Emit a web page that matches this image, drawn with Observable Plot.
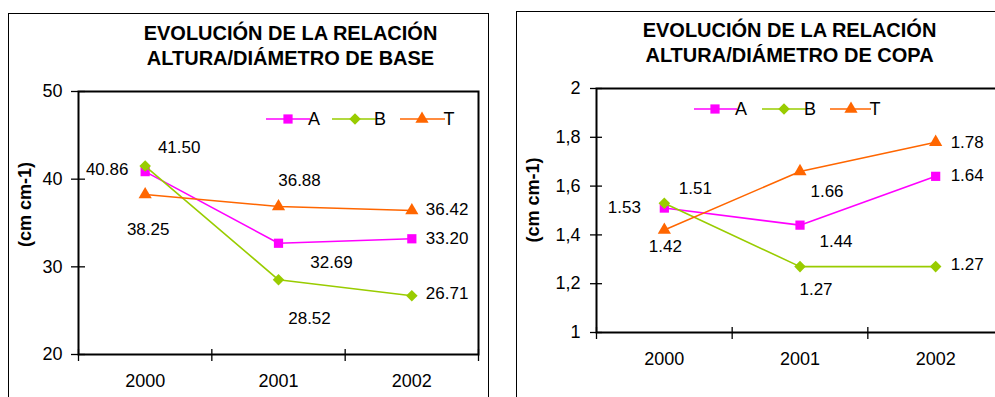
<!DOCTYPE html>
<html><head><meta charset="utf-8">
<script src="https://cdn.jsdelivr.net/npm/d3@7"></script>
<script src="https://cdn.jsdelivr.net/npm/@observablehq/plot@0.6"></script>
<style>
body{margin:0;background:#fff;}
#wrap{position:relative;width:995px;height:397px;overflow:hidden;font-family:"Liberation Sans",Arial,sans-serif;background:#fff;}
.box{position:absolute;border:1px solid #000;}
.chart{position:absolute;top:0;}
</style></head><body><div id="wrap"></div>
<script>
// ---- data ----
const years = ["2000", "2001", "2002"];
const series = ["A", "B", "T"];
const baseA = [40.86, 32.69, 33.20];
const baseB = [41.50, 28.52, 26.71];
const baseT = [38.25, 36.88, 36.42];
const copaA = [1.51, 1.44, 1.64];
const copaB = [1.53, 1.27, 1.27];
const copaT = [1.42, 1.66, 1.78];
const baseTicks = [20, 30, 40, 50];
const baseTickLabels = ["20", "30", "40", "50"];
const copaTicks = [1, 1.2, 1.4, 1.6, 1.8, 2];
const copaTickLabels = ["1", "1,2", "1,4", "1,6", "1,8", "2"];
const titleBase = "EVOLUCIÓN DE LA RELACIÓN\nALTURA/DIÁMETRO DE BASE";
const titleCopa = "EVOLUCIÓN DE LA RELACIÓN\nALTURA/DIÁMETRO DE COPA";
const yLabel = "(cm cm-1)";

// ---- style / layout ----
const colors = {A: "#FF00FF", B: "#99CC00", T: "#FF6600"};
const symbols = {A: "square", B: "diamond2", T: "triangle"};
const radii = {A: 5.2, B: 5.2, T: 4.9};
const baseOffsets = {
  A: [[-38, -2, "middle"], [53, 19, "middle"], [14, 0, "start"]],
  B: [[34, -18, "middle"], [31, 39, "middle"], [14, -2, "start"]],
  T: [[3, 35, "middle"], [21, -26, "middle"], [14, -1, "start"]]
};
const copaOffsets = {
  A: [[31, -20, "middle"], [36, 16, "middle"], [15, -1, "start"]],
  B: [[-40, 4, "middle"], [16, 23, "middle"], [15, -2, "start"]],
  T: [[1, 17, "middle"], [27, 20, "middle"], [15, 0, "start"]]
};

function rows(vals) {
  return series.flatMap((s, k) => vals[k].map((v, i) => ({s, i, year: years[i], v})));
}

function chart(cfg) {
  const data = rows(cfg.vals);
  const bounds = [-0.5, 0.5, 1.5, 2.5];
  const marks = [Plot.frame({stroke: "#000", strokeWidth: 2})];
  for (const s of series) {
    const d = data.filter(r => r.s === s);
    marks.push(Plot.line(d, {x: "i", y: "v", stroke: colors[s], strokeWidth: 1.6}));
    marks.push(Plot.dot(d, {x: "i", y: "v", symbol: symbols[s], r: radii[s], fill: colors[s], stroke: "none"}));
  }
  for (const r of data) {
    const o = cfg.offsets[r.s][r.i];
    marks.push(Plot.text([r], {x: "i", y: "v", text: d => d.v.toFixed(2), dx: o[0], dy: o[1], textAnchor: o[2], fontSize: 17, fill: "#000"}));
  }
  marks.push(
    Plot.axisY({ticks: cfg.ticks, label: null, tickSize: cfg.ytick, tickPadding: cfg.ypad, tickFormat: d => cfg.tickLabels[cfg.ticks.indexOf(d)], fontSize: 18, strokeWidth: 1.3}),
    Plot.axisY({ticks: cfg.ticks, label: null, tickSize: -cfg.ytick, tickFormat: () => "", strokeWidth: 1.3}),
    Plot.axisX({ticks: bounds, label: null, tickSize: 7, tickFormat: () => "", strokeWidth: 1.3}),
    Plot.axisX({ticks: bounds, label: null, tickSize: -5, tickFormat: () => "", strokeWidth: 1.3}),
    Plot.axisX({ticks: [0, 1, 2], label: null, tickSize: 0, tickPadding: 20, tickFormat: i => years[i], fontSize: 18}),
    Plot.text([cfg.title], {frameAnchor: "top", text: d => d, dx: cfg.titleDx, dy: -47, lineAnchor: "middle", lineHeight: 1.25, fontSize: 20, fontWeight: "bold", fill: "#000"}),
    Plot.text([yLabel], {frameAnchor: "left", text: d => d, rotate: -90, dx: cfg.labDx, dy: cfg.labDy, fontSize: 18, fontWeight: "bold", fill: "#000"})
  );
  const svg = Plot.plot({
    width: cfg.width, height: 397,
    marginLeft: cfg.ml, marginRight: cfg.mr, marginTop: cfg.mt, marginBottom: cfg.mb,
    x: {domain: [-0.5, 2.5]},
    y: {domain: cfg.domain},
    style: {fontFamily: "Liberation Sans, Arial, sans-serif", color: "#000", background: "transparent", overflow: "visible", maxWidth: "none"},
    marks
  });
  // legend
  const g = d3.select(svg).append("g").attr("class", "legend");
  cfg.legend.items.forEach((it, k) => {
    const s = series[k];
    const y = cfg.legend.y;
    g.append("line").attr("x1", it[0]).attr("x2", it[1]).attr("y1", y).attr("y2", y)
      .attr("stroke", colors[s]).attr("stroke-width", 1.6);
    const sym = {square: d3.symbolSquare, diamond2: d3.symbolDiamond2, triangle: d3.symbolTriangle}[symbols[s]];
    g.append("path").attr("d", d3.symbol(sym, Math.PI * radii[s] * radii[s])())
      .attr("transform", `translate(${it[2]},${y})`).attr("fill", colors[s]);
    g.append("text").attr("x", it[3]).attr("y", y).attr("dy", "0.35em")
      .attr("font-size", 18).attr("fill", "#000").text(s);
  });
  return svg;
}

const wrap = document.getElementById("wrap");
function box(l, t, w, h) {
  const b = document.createElement("div");
  b.className = "box";
  Object.assign(b.style, {left: l + "px", top: t + "px", width: w + "px", height: h + "px"});
  wrap.appendChild(b);
}
box(8, 13, 479, 500);
box(516, 11, 600, 500);

const left = chart({
  vals: [baseA, baseB, baseT], domain: [20, 50], ticks: baseTicks, tickLabels: baseTickLabels,
  title: titleBase, offsets: baseOffsets, width: 490, ml: 78, mr: 12, mt: 91, mb: 43,
  ytick: 7, ypad: 9, titleDx: 12, labDx: -53, labDy: 24,
  legend: {y: 119, items: [[266, 310, 288, 314], [332, 377, 355, 380], [400, 445, 422, 449]]}
});
const right = chart({
  vals: [copaA, copaB, copaT], domain: [1, 2], ticks: copaTicks, tickLabels: copaTickLabels,
  title: titleCopa, offsets: copaOffsets, width: 515, ml: 96, mr: 12, mt: 88, mb: 65,
  ytick: 6, ypad: 10, titleDx: -10.5, labDx: -63, labDy: 32,
  legend: {y: 109, items: [[194, 237, 215, 241], [262, 306, 284, 310], [330, 371, 351, 375]]}
});
const d1 = document.createElement("div"); d1.className = "chart"; d1.style.left = "0px"; d1.appendChild(left); wrap.appendChild(d1);
const d2 = document.createElement("div"); d2.className = "chart"; d2.style.left = "500px"; d2.appendChild(right); wrap.appendChild(d2);
</script></body></html>
